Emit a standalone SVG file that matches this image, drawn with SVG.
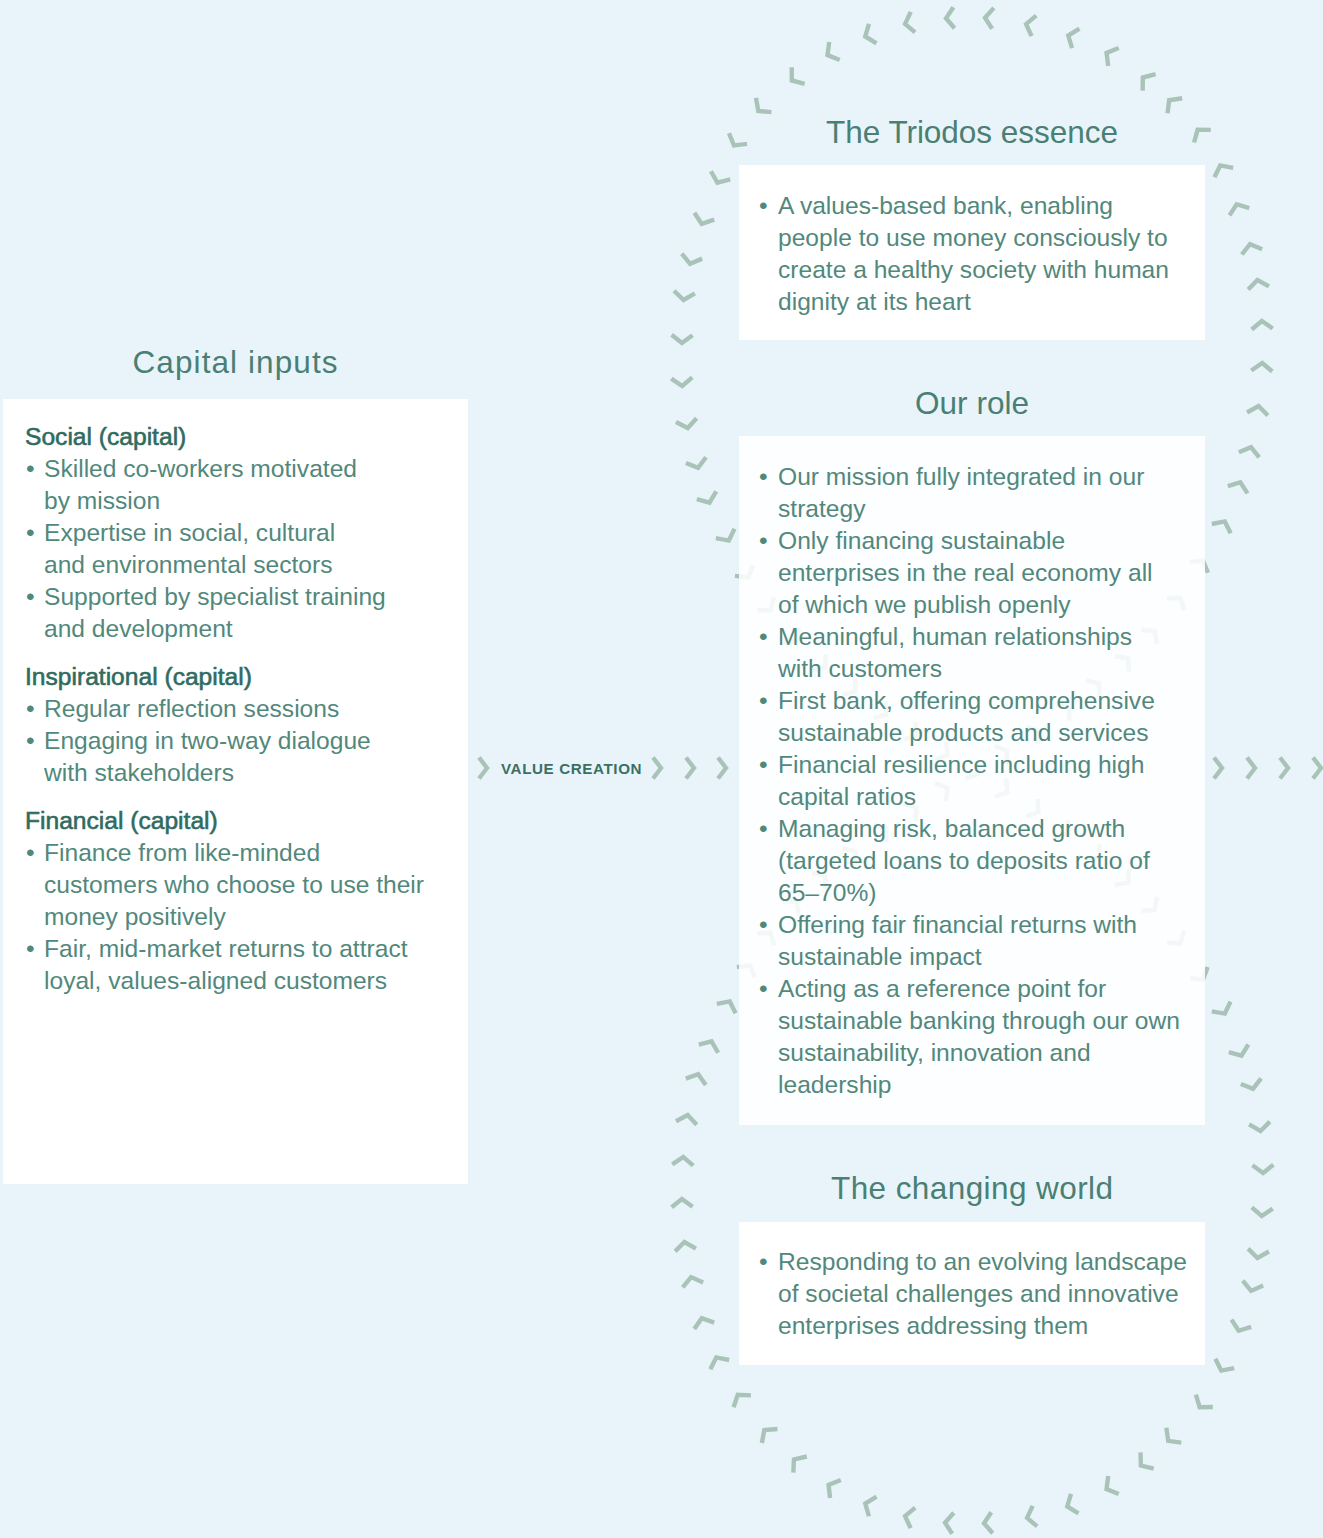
<svg xmlns="http://www.w3.org/2000/svg" xmlns:xlink="http://www.w3.org/1999/xlink" width="1323" height="1538" viewBox="0 0 1323 1538">
<style>
.bg{fill:#e9f4fa}
.box{fill:#ffffff}
.fade{fill:#ffffff;fill-opacity:0.86}
.title{font-family:"Liberation Sans",Arial,sans-serif;font-size:31.5px;fill:#4a7f74;text-anchor:middle}
.body{font-family:"Liberation Sans",Arial,sans-serif;font-size:24.6px;fill:#52887c}
.head{font-family:"Liberation Sans",Arial,sans-serif;font-size:24.6px;fill:#2f6b5f;stroke:#2f6b5f;stroke-width:0.6}
.vc{font-family:"Liberation Sans",Arial,sans-serif;font-size:15.2px;font-weight:bold;fill:#3a7064;letter-spacing:0.6px}
.chev{fill:none;stroke:#aac3b9;stroke-width:4.4;stroke-linejoin:miter;stroke-linecap:butt}
</style>
<defs>
<path id="chevron" class="chev" d="M-4,-10.5 L4,0 L-4,10.5"/>
<marker id="cv" markerUnits="userSpaceOnUse" markerWidth="40" markerHeight="40" viewBox="-20 -20 40 40" refX="0" refY="0" orient="auto" overflow="visible">
<path class="chev" d="M-4,-10.5 L4,0 L-4,10.5"/>
</marker>
</defs>
<rect class="bg" x="0" y="0" width="1323" height="1538"/>

<g id="connectors">
<path id="value-loop" fill="none" stroke="none" marker-mid="url(#cv)" d="M974,772 L1004,753 L1035,733 L1066,710 L1096,686 L1125,661 L1152,634 L1178,601 L1201,564 L1223,525 L1239,486 L1250,451 L1258,410 L1262,367 L1262,325 L1258,284 L1251,248 L1238,208 L1222,169 L1200,133 L1172,103 L1146,80 L1110,55 L1072,37 L1030,25 L989,18 L950,18 L909,23 L869,35 L831,53 L795,78 L761,108 L736,142 L719,179 L703,220 L691,260 L684,296 L682,339 L682,382 L687,424 L697,464 L708,499 L727,537 L746,574 L768,607 L794,638 L822,665 L852,689 L883,712 L913,733 L944,753 L974,772 L1004,790 L1035,810 L1065,831 L1096,855 L1125,880 L1152,907 L1178,940 L1201,976 L1223,1010 L1240,1052 L1252,1085 L1260,1127 L1263,1169 L1262,1212 L1258,1254 L1252,1287 L1240,1327 L1223,1367 L1202,1404 L1171,1438 L1144,1463 L1110,1487 L1071,1505 L1031,1517 L988,1523 L949,1523 L909,1517 L869,1505 L832,1487 L797,1462 L767,1433 L740,1398 L718,1361 L703,1322 L692,1281 L685,1246 L682,1203 L683,1161 L687,1119 L697,1078 L710,1045 L728,1005 L748,969 L768,936 L794,905 L822,878 L852,854 L883,831 L913,810 L944,790 L974,772"/>
<g id="value-creation">
<use xlink:href="#chevron" href="#chevron" x="483" y="768"/>
<text class="vc" x="501" y="774">VALUE CREATION</text>
<use xlink:href="#chevron" href="#chevron" x="657" y="768"/>
<use xlink:href="#chevron" href="#chevron" x="690" y="768"/>
<use xlink:href="#chevron" href="#chevron" x="722" y="768"/>
<use xlink:href="#chevron" href="#chevron" x="1218" y="768"/>
<use xlink:href="#chevron" href="#chevron" x="1251" y="768"/>
<use xlink:href="#chevron" href="#chevron" x="1284" y="768"/>
<use xlink:href="#chevron" href="#chevron" x="1317" y="768"/>
</g>
</g>

<g id="capital-inputs">
<text class="title" x="235" y="373" textLength="205" lengthAdjust="spacing">Capital inputs</text>
<rect class="box" x="3" y="399" width="465" height="785"/>
<text class="head" x="25" y="445">Social (capital)</text>
<text class="body" y="477"><tspan x="26">•</tspan><tspan x="44">Skilled co-workers motivated</tspan></text>
<text class="body" x="44" y="509">by mission</text>
<text class="body" y="541"><tspan x="26">•</tspan><tspan x="44">Expertise in social, cultural</tspan></text>
<text class="body" x="44" y="573">and environmental sectors</text>
<text class="body" y="605"><tspan x="26">•</tspan><tspan x="44">Supported by specialist training</tspan></text>
<text class="body" x="44" y="637">and development</text>
<text class="head" x="25" y="685">Inspirational (capital)</text>
<text class="body" y="717"><tspan x="26">•</tspan><tspan x="44">Regular reflection sessions</tspan></text>
<text class="body" y="749"><tspan x="26">•</tspan><tspan x="44">Engaging in two-way dialogue</tspan></text>
<text class="body" x="44" y="781">with stakeholders</text>
<text class="head" x="25" y="829">Financial (capital)</text>
<text class="body" y="861"><tspan x="26">•</tspan><tspan x="44">Finance from like-minded</tspan></text>
<text class="body" x="44" y="893">customers who choose to use their</text>
<text class="body" x="44" y="925">money positively</text>
<text class="body" y="957"><tspan x="26">•</tspan><tspan x="44">Fair, mid-market returns to attract</tspan></text>
<text class="body" x="44" y="989">loyal, values-aligned customers</text>
</g>

<g id="triodos-essence">
<text class="title" x="972" y="143" textLength="292" lengthAdjust="spacing">The Triodos essence</text>
<rect class="box" x="739" y="165" width="466" height="175"/>
<text class="body" y="214"><tspan x="759">•</tspan><tspan x="778">A values-based bank, enabling</tspan></text>
<text class="body" x="778" y="246">people to use money consciously to</text>
<text class="body" x="778" y="278">create a healthy society with human</text>
<text class="body" x="778" y="310">dignity at its heart</text>
</g>

<g id="our-role">
<text class="title" x="972" y="414" textLength="114" lengthAdjust="spacing">Our role</text>
<rect class="fade" x="739" y="436" width="466" height="689"/>
<text class="body" y="485"><tspan x="759">•</tspan><tspan x="778">Our mission fully integrated in our</tspan></text>
<text class="body" x="778" y="517">strategy</text>
<text class="body" y="549"><tspan x="759">•</tspan><tspan x="778">Only financing sustainable</tspan></text>
<text class="body" x="778" y="581">enterprises in the real economy all</text>
<text class="body" x="778" y="613">of which we publish openly</text>
<text class="body" y="645"><tspan x="759">•</tspan><tspan x="778">Meaningful, human relationships</tspan></text>
<text class="body" x="778" y="677">with customers</text>
<text class="body" y="709"><tspan x="759">•</tspan><tspan x="778">First bank, offering comprehensive</tspan></text>
<text class="body" x="778" y="741">sustainable products and services</text>
<text class="body" y="773"><tspan x="759">•</tspan><tspan x="778">Financial resilience including high</tspan></text>
<text class="body" x="778" y="805">capital ratios</text>
<text class="body" y="837"><tspan x="759">•</tspan><tspan x="778">Managing risk, balanced growth</tspan></text>
<text class="body" x="778" y="869">(targeted loans to deposits ratio of</text>
<text class="body" x="778" y="901">65–70%)</text>
<text class="body" y="933"><tspan x="759">•</tspan><tspan x="778">Offering fair financial returns with</tspan></text>
<text class="body" x="778" y="965">sustainable impact</text>
<text class="body" y="997"><tspan x="759">•</tspan><tspan x="778">Acting as a reference point for</tspan></text>
<text class="body" x="778" y="1029">sustainable banking through our own</text>
<text class="body" x="778" y="1061">sustainability, innovation and</text>
<text class="body" x="778" y="1093">leadership</text>
</g>

<g id="changing-world">
<text class="title" x="972" y="1199" textLength="282" lengthAdjust="spacing">The changing world</text>
<rect class="box" x="739" y="1222" width="466" height="143"/>
<text class="body" y="1270"><tspan x="759">•</tspan><tspan x="778">Responding to an evolving landscape</tspan></text>
<text class="body" x="778" y="1302">of societal challenges and innovative</text>
<text class="body" x="778" y="1334">enterprises addressing them</text>
</g>
</svg>
